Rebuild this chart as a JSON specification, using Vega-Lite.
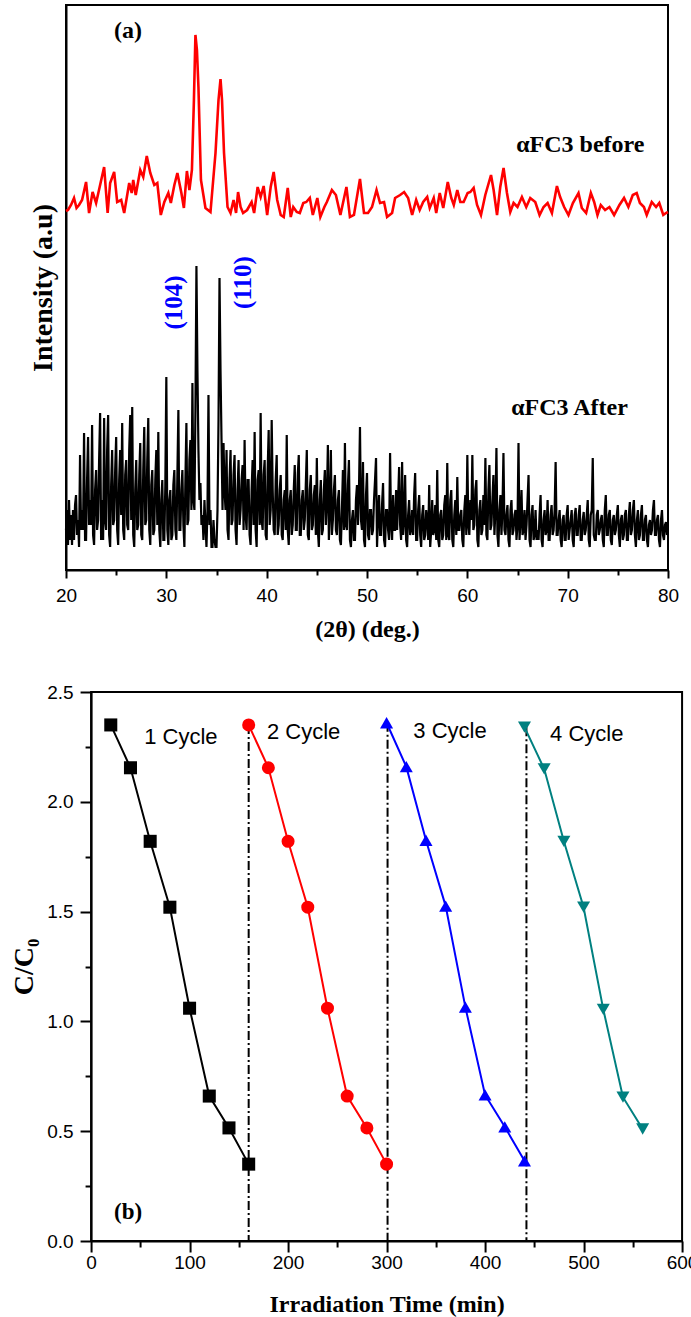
{
"$schema": "https://vega.github.io/schema/vega-lite/v6.json",
"padding": {"left": 5, "top": 4, "right": 5, "bottom": 0},
"spacing": 40,
"center": true,
"config": {
  "view": {"stroke": "black", "strokeWidth": 2},
  "axis": {"domainColor": "black", "domainWidth": 2, "tickColor": "black", "tickWidth": 2, "grid": false,
    "labelFont": "Liberation Sans", "labelFontSize": 19, "labelColor": "black",
    "titleFont": "Liberation Serif", "titleFontWeight": "bold", "titleColor": "black",
    "labelOverlap": false, "labelFlush": false}
},
"resolve": {"scale": {"x": "independent", "y": "independent", "color": "independent", "shape": "independent"}},
"datasets": {
"before": [
{"d":20.0,"i":359},{"d":20.2,"i":360},{"d":20.5,"i":365},{"d":20.8,"i":372},{"d":21.05,"i":362},{"d":21.3,"i":365},{"d":21.6,"i":370},{"d":22.0,"i":388},{"d":22.3,"i":357},{"d":22.65,"i":378},{"d":23.0,"i":367},{"d":23.4,"i":385},{"d":23.8,"i":403},{"d":24.15,"i":357},{"d":24.4,"i":387},{"d":24.8,"i":398},{"d":25.1,"i":368},{"d":25.5,"i":370},{"d":25.8,"i":357},{"d":26.3,"i":387},{"d":26.55,"i":377},{"d":26.7,"i":390},{"d":26.95,"i":375},{"d":27.4,"i":400},{"d":27.7,"i":393},{"d":28.05,"i":414},{"d":28.4,"i":397},{"d":28.8,"i":385},{"d":29.1,"i":387},{"d":29.45,"i":355},{"d":29.8,"i":368},{"d":30.2,"i":377},{"d":30.45,"i":367},{"d":30.8,"i":385},{"d":31.1,"i":397},{"d":31.5,"i":377},{"d":31.75,"i":362},{"d":32.05,"i":399},{"d":32.3,"i":380},{"d":32.55,"i":400},{"d":32.75,"i":470},{"d":32.9,"i":535},{"d":33.05,"i":520},{"d":33.2,"i":483},{"d":33.45,"i":390},{"d":33.9,"i":362},{"d":34.4,"i":358},{"d":34.9,"i":417},{"d":35.2,"i":470},{"d":35.4,"i":491},{"d":35.55,"i":470},{"d":35.75,"i":417},{"d":36.1,"i":363},{"d":36.4,"i":357},{"d":36.7,"i":370},{"d":36.95,"i":357},{"d":37.15,"i":378},{"d":37.4,"i":363},{"d":37.65,"i":357},{"d":38.05,"i":360},{"d":38.5,"i":368},{"d":38.75,"i":357},{"d":39.1,"i":383},{"d":39.4,"i":373},{"d":39.7,"i":384},{"d":40.05,"i":355},{"d":40.4,"i":383},{"d":40.7,"i":398},{"d":41.05,"i":370},{"d":41.4,"i":355},{"d":41.7,"i":353},{"d":42.1,"i":382},{"d":42.4,"i":353},{"d":42.65,"i":363},{"d":43.0,"i":358},{"d":43.3,"i":357},{"d":43.65,"i":367},{"d":43.95,"i":368},{"d":44.3,"i":372},{"d":44.6,"i":355},{"d":45.05,"i":372},{"d":45.35,"i":353},{"d":45.75,"i":363},{"d":46.0,"i":368},{"d":46.5,"i":380},{"d":46.9,"i":375},{"d":47.35,"i":355},{"d":47.95,"i":383},{"d":48.3,"i":353},{"d":48.7,"i":355},{"d":49.3,"i":391},{"d":49.7,"i":357},{"d":50.1,"i":357},{"d":50.5,"i":363},{"d":50.95,"i":380},{"d":51.3,"i":367},{"d":51.7,"i":368},{"d":52.0,"i":353},{"d":52.5,"i":357},{"d":52.8,"i":372},{"d":53.3,"i":375},{"d":53.7,"i":378},{"d":54.1,"i":372},{"d":54.5,"i":355},{"d":54.9,"i":370},{"d":55.25,"i":360},{"d":55.6,"i":368},{"d":56.0,"i":373},{"d":56.25,"i":362},{"d":56.65,"i":372},{"d":56.9,"i":357},{"d":57.25,"i":377},{"d":57.6,"i":362},{"d":58.05,"i":388},{"d":58.4,"i":372},{"d":58.65,"i":365},{"d":59.0,"i":380},{"d":59.3,"i":368},{"d":59.63,"i":368},{"d":60.03,"i":377},{"d":60.3,"i":378},{"d":60.63,"i":382},{"d":60.97,"i":365},{"d":61.36,"i":355},{"d":61.79,"i":375},{"d":62.36,"i":395},{"d":62.62,"i":380},{"d":62.96,"i":355},{"d":63.28,"i":383},{"d":63.61,"i":402},{"d":63.95,"i":377},{"d":64.28,"i":358},{"d":64.61,"i":367},{"d":65.0,"i":363},{"d":65.44,"i":373},{"d":65.87,"i":363},{"d":66.27,"i":372},{"d":66.77,"i":368},{"d":67.2,"i":355},{"d":67.6,"i":363},{"d":68.0,"i":367},{"d":68.43,"i":357},{"d":68.93,"i":384},{"d":69.25,"i":373},{"d":69.65,"i":363},{"d":70.08,"i":355},{"d":70.52,"i":367},{"d":71.08,"i":377},{"d":71.41,"i":362},{"d":71.84,"i":357},{"d":72.31,"i":377},{"d":72.64,"i":368},{"d":72.97,"i":355},{"d":73.3,"i":365},{"d":73.73,"i":360},{"d":74.16,"i":363},{"d":74.63,"i":355},{"d":75.16,"i":365},{"d":75.62,"i":372},{"d":76.05,"i":363},{"d":76.49,"i":375},{"d":76.88,"i":377},{"d":77.2,"i":367},{"d":77.6,"i":363},{"d":77.88,"i":355},{"d":78.38,"i":368},{"d":78.81,"i":363},{"d":79.13,"i":367},{"d":79.53,"i":355},{"d":79.8,"i":357},{"d":80.0,"i":358}
],
"after": [
{"d":20.0,"i":40},{"d":20.1,"i":60},{"d":20.2,"i":25},{"d":20.3,"i":70},{"d":20.4,"i":30},{"d":20.5,"i":55},{"d":20.6,"i":25},{"d":20.7,"i":60},{"d":20.8,"i":30},{"d":20.9,"i":65},
{"d":21.0,"i":75},{"d":21.1,"i":35},{"d":21.2,"i":50},{"d":21.3,"i":23},{"d":21.4,"i":115},{"d":21.5,"i":40},{"d":21.6,"i":60},{"d":21.7,"i":40},{"d":21.8,"i":137},{"d":21.9,"i":30},
{"d":22.0,"i":30},{"d":22.1,"i":90},{"d":22.2,"i":133},{"d":22.3,"i":45},{"d":22.4,"i":70},{"d":22.5,"i":45},{"d":22.6,"i":145},{"d":22.7,"i":35},{"d":22.8,"i":25},{"d":22.9,"i":80},
{"d":23.0,"i":100},{"d":23.1,"i":40},{"d":23.2,"i":50},{"d":23.3,"i":110},{"d":23.4,"i":157},{"d":23.5,"i":30},{"d":23.6,"i":70},{"d":23.7,"i":30},{"d":23.8,"i":152},{"d":23.9,"i":50},
{"d":24.0,"i":40},{"d":24.1,"i":120},{"d":24.2,"i":155},{"d":24.3,"i":35},{"d":24.4,"i":23},{"d":24.5,"i":85},{"d":24.6,"i":120},{"d":24.7,"i":45},{"d":24.8,"i":50},{"d":24.9,"i":100},
{"d":25.0,"i":133},{"d":25.1,"i":40},{"d":25.2,"i":25},{"d":25.3,"i":90},{"d":25.4,"i":120},{"d":25.5,"i":55},{"d":25.6,"i":147},{"d":25.7,"i":40},{"d":25.8,"i":30},{"d":25.9,"i":95},
{"d":26.0,"i":110},{"d":26.1,"i":45},{"d":26.2,"i":40},{"d":26.3,"i":120},{"d":26.4,"i":155},{"d":26.5,"i":50},{"d":26.6,"i":163},{"d":26.7,"i":35},{"d":26.8,"i":23},{"d":26.9,"i":80},
{"d":27.0,"i":110},{"d":27.1,"i":40},{"d":27.2,"i":45},{"d":27.3,"i":95},{"d":27.4,"i":127},{"d":27.5,"i":35},{"d":27.6,"i":30},{"d":27.7,"i":100},{"d":27.8,"i":143},{"d":27.9,"i":45},
{"d":28.0,"i":50},{"d":28.1,"i":110},{"d":28.2,"i":152},{"d":28.3,"i":40},{"d":28.4,"i":25},{"d":28.5,"i":85},{"d":28.6,"i":100},{"d":28.7,"i":35},{"d":28.8,"i":40},{"d":28.9,"i":90},
{"d":29.0,"i":120},{"d":29.1,"i":45},{"d":29.2,"i":138},{"d":29.3,"i":40},{"d":29.4,"i":23},{"d":29.5,"i":70},{"d":29.6,"i":90},{"d":29.7,"i":30},{"d":29.8,"i":30},{"d":29.9,"i":85},
{"d":30.0,"i":193},{"d":30.1,"i":40},{"d":30.2,"i":25},{"d":30.3,"i":70},{"d":30.4,"i":80},{"d":30.5,"i":30},{"d":30.6,"i":35},{"d":30.7,"i":85},{"d":30.8,"i":100},{"d":30.9,"i":40},
{"d":31.0,"i":30},{"d":31.1,"i":95},{"d":31.2,"i":160},{"d":31.3,"i":40},{"d":31.4,"i":40},{"d":31.5,"i":80},{"d":31.6,"i":100},{"d":31.7,"i":45},{"d":31.8,"i":23},{"d":31.9,"i":90},
{"d":32.0,"i":147},{"d":32.1,"i":45},{"d":32.2,"i":50},{"d":32.3,"i":110},{"d":32.4,"i":130},{"d":32.5,"i":60},{"d":32.6,"i":187},{"d":32.7,"i":70},{"d":32.8,"i":60},{"d":32.9,"i":160},
{"d":33.0,"i":304},{"d":33.1,"i":200},{"d":33.2,"i":120},{"d":33.3,"i":70},{"d":33.4,"i":87},{"d":33.5,"i":45},{"d":33.6,"i":55},{"d":33.7,"i":30},{"d":33.8,"i":70},{"d":33.9,"i":45},
{"d":34.0,"i":23},{"d":34.1,"i":60},{"d":34.2,"i":175},{"d":34.3,"i":45},{"d":34.4,"i":60},{"d":34.5,"i":23},{"d":34.6,"i":23},{"d":34.7,"i":50},{"d":34.8,"i":30},{"d":34.9,"i":23},
{"d":35.0,"i":23},{"d":35.1,"i":60},{"d":35.2,"i":150},{"d":35.3,"i":292},{"d":35.4,"i":200},{"d":35.5,"i":130},{"d":35.6,"i":60},{"d":35.7,"i":127},{"d":35.8,"i":80},{"d":35.9,"i":60},
{"d":36.0,"i":120},{"d":36.1,"i":40},{"d":36.2,"i":30},{"d":36.3,"i":90},{"d":36.4,"i":120},{"d":36.5,"i":45},{"d":36.6,"i":50},{"d":36.7,"i":95},{"d":36.8,"i":115},{"d":36.9,"i":40},
{"d":37.0,"i":25},{"d":37.1,"i":80},{"d":37.2,"i":110},{"d":37.3,"i":45},{"d":37.4,"i":60},{"d":37.5,"i":90},{"d":37.6,"i":105},{"d":37.7,"i":40},{"d":37.8,"i":130},{"d":37.9,"i":55},
{"d":38.0,"i":40},{"d":38.1,"i":90},{"d":38.2,"i":90},{"d":38.3,"i":35},{"d":38.4,"i":25},{"d":38.5,"i":80},{"d":38.6,"i":110},{"d":38.7,"i":45},{"d":38.8,"i":138},{"d":38.9,"i":40},
{"d":39.0,"i":23},{"d":39.1,"i":90},{"d":39.2,"i":100},{"d":39.3,"i":45},{"d":39.4,"i":157},{"d":39.5,"i":50},{"d":39.6,"i":40},{"d":39.7,"i":95},{"d":39.8,"i":110},{"d":39.9,"i":35},
{"d":40.0,"i":30},{"d":40.1,"i":100},{"d":40.2,"i":140},{"d":40.3,"i":45},{"d":40.4,"i":60},{"d":40.5,"i":150},{"d":40.6,"i":80},{"d":40.7,"i":40},{"d":40.8,"i":35},{"d":40.9,"i":90},
{"d":41.0,"i":115},{"d":41.1,"i":35},{"d":41.2,"i":45},{"d":41.3,"i":80},{"d":41.4,"i":95},{"d":41.5,"i":35},{"d":41.6,"i":30},{"d":41.7,"i":70},{"d":41.8,"i":80},{"d":41.9,"i":40},
{"d":42.0,"i":135},{"d":42.1,"i":40},{"d":42.2,"i":25},{"d":42.3,"i":70},{"d":42.4,"i":80},{"d":42.5,"i":35},{"d":42.6,"i":45},{"d":42.7,"i":80},{"d":42.8,"i":105},{"d":42.9,"i":40},
{"d":43.0,"i":40},{"d":43.1,"i":95},{"d":43.2,"i":115},{"d":43.3,"i":35},{"d":43.4,"i":35},{"d":43.5,"i":70},{"d":43.6,"i":80},{"d":43.7,"i":40},{"d":43.8,"i":50},{"d":43.9,"i":85},
{"d":44.0,"i":120},{"d":44.1,"i":35},{"d":44.2,"i":30},{"d":44.3,"i":80},{"d":44.4,"i":95},{"d":44.5,"i":40},{"d":44.6,"i":45},{"d":44.7,"i":75},{"d":44.8,"i":85},{"d":44.9,"i":35},
{"d":45.0,"i":112},{"d":45.1,"i":40},{"d":45.2,"i":23},{"d":45.3,"i":70},{"d":45.4,"i":90},{"d":45.5,"i":35},{"d":45.6,"i":40},{"d":45.7,"i":80},{"d":45.8,"i":100},{"d":45.9,"i":45},
{"d":46.0,"i":70},{"d":46.1,"i":125},{"d":46.2,"i":30},{"d":46.3,"i":60},{"d":46.4,"i":120},{"d":46.5,"i":35},{"d":46.6,"i":50},{"d":46.7,"i":80},{"d":46.8,"i":95},{"d":46.9,"i":40},
{"d":47.0,"i":35},{"d":47.1,"i":70},{"d":47.2,"i":80},{"d":47.3,"i":30},{"d":47.4,"i":25},{"d":47.5,"i":60},{"d":47.6,"i":100},{"d":47.7,"i":40},{"d":47.8,"i":127},{"d":47.9,"i":45},
{"d":48.0,"i":40},{"d":48.1,"i":85},{"d":48.2,"i":110},{"d":48.3,"i":30},{"d":48.4,"i":23},{"d":48.5,"i":50},{"d":48.6,"i":60},{"d":48.7,"i":30},{"d":48.8,"i":30},{"d":48.9,"i":70},
{"d":49.0,"i":85},{"d":49.1,"i":45},{"d":49.2,"i":80},{"d":49.3,"i":143},{"d":49.4,"i":50},{"d":49.5,"i":40},{"d":49.6,"i":108},{"d":49.7,"i":30},{"d":49.8,"i":23},{"d":49.9,"i":75},
{"d":50.0,"i":97},{"d":50.1,"i":35},{"d":50.2,"i":30},{"d":50.3,"i":60},{"d":50.4,"i":60},{"d":50.5,"i":35},{"d":50.6,"i":40},{"d":50.7,"i":70},{"d":50.8,"i":90},{"d":50.9,"i":112},
{"d":51.0,"i":23},{"d":51.1,"i":55},{"d":51.2,"i":75},{"d":51.3,"i":35},{"d":51.4,"i":35},{"d":51.5,"i":65},{"d":51.6,"i":87},{"d":51.7,"i":30},{"d":51.8,"i":23},{"d":51.9,"i":60},
{"d":52.0,"i":60},{"d":52.1,"i":40},{"d":52.2,"i":30},{"d":52.3,"i":117},{"d":52.4,"i":45},{"d":52.5,"i":30},{"d":52.6,"i":75},{"d":52.7,"i":40},{"d":52.8,"i":40},{"d":52.9,"i":80},
{"d":53.0,"i":40},{"d":53.1,"i":70},{"d":53.2,"i":103},{"d":53.3,"i":45},{"d":53.4,"i":30},{"d":53.5,"i":108},{"d":53.6,"i":35},{"d":53.7,"i":50},{"d":53.8,"i":95},{"d":53.9,"i":30},
{"d":54.0,"i":23},{"d":54.1,"i":55},{"d":54.2,"i":70},{"d":54.3,"i":35},{"d":54.4,"i":40},{"d":54.5,"i":60},{"d":54.6,"i":35},{"d":54.7,"i":75},{"d":54.8,"i":97},{"d":54.9,"i":30},
{"d":55.0,"i":30},{"d":55.1,"i":60},{"d":55.2,"i":75},{"d":55.3,"i":35},{"d":55.4,"i":23},{"d":55.5,"i":55},{"d":55.6,"i":65},{"d":55.7,"i":30},{"d":55.8,"i":35},{"d":55.9,"i":60},
{"d":56.0,"i":50},{"d":56.1,"i":30},{"d":56.2,"i":85},{"d":56.3,"i":23},{"d":56.4,"i":40},{"d":56.5,"i":70},{"d":56.6,"i":35},{"d":56.7,"i":40},{"d":56.8,"i":65},{"d":56.9,"i":30},
{"d":57.0,"i":100},{"d":57.1,"i":30},{"d":57.2,"i":23},{"d":57.3,"i":55},{"d":57.4,"i":60},{"d":57.5,"i":30},{"d":57.6,"i":35},{"d":57.7,"i":65},{"d":57.8,"i":75},{"d":57.9,"i":30},
{"d":58.0,"i":107},{"d":58.1,"i":35},{"d":58.2,"i":30},{"d":58.3,"i":70},{"d":58.4,"i":80},{"d":58.5,"i":30},{"d":58.6,"i":23},{"d":58.7,"i":55},{"d":58.8,"i":70},{"d":58.9,"i":35},
{"d":59.0,"i":93},{"d":59.1,"i":40},{"d":59.2,"i":40},{"d":59.3,"i":55},{"d":59.4,"i":60},{"d":59.5,"i":30},{"d":59.6,"i":23},{"d":59.7,"i":60},{"d":59.8,"i":75},{"d":59.9,"i":35},
{"d":60.0,"i":115},{"d":60.1,"i":45},{"d":60.2,"i":35},{"d":60.3,"i":70},{"d":60.4,"i":50},{"d":60.5,"i":115},{"d":60.6,"i":40},{"d":60.7,"i":45},{"d":60.8,"i":80},{"d":60.9,"i":90},
{"d":61.0,"i":30},{"d":61.1,"i":23},{"d":61.2,"i":60},{"d":61.3,"i":70},{"d":61.4,"i":35},{"d":61.5,"i":40},{"d":61.6,"i":75},{"d":61.7,"i":45},{"d":61.8,"i":112},{"d":61.9,"i":35},
{"d":62.0,"i":30},{"d":62.1,"i":80},{"d":62.2,"i":105},{"d":62.3,"i":40},{"d":62.4,"i":45},{"d":62.5,"i":70},{"d":62.6,"i":95},{"d":62.7,"i":35},{"d":62.8,"i":60},{"d":62.9,"i":122},
{"d":63.0,"i":35},{"d":63.1,"i":23},{"d":63.2,"i":60},{"d":63.3,"i":75},{"d":63.4,"i":35},{"d":63.5,"i":60},{"d":63.6,"i":117},{"d":63.7,"i":40},{"d":63.8,"i":35},{"d":63.9,"i":55},
{"d":64.0,"i":65},{"d":64.1,"i":30},{"d":64.2,"i":23},{"d":64.3,"i":60},{"d":64.4,"i":70},{"d":64.5,"i":35},{"d":64.6,"i":40},{"d":64.7,"i":55},{"d":64.8,"i":60},{"d":64.9,"i":30},
{"d":65.0,"i":45},{"d":65.1,"i":127},{"d":65.2,"i":30},{"d":65.3,"i":50},{"d":65.4,"i":80},{"d":65.5,"i":35},{"d":65.6,"i":40},{"d":65.7,"i":60},{"d":65.8,"i":30},{"d":65.9,"i":45},
{"d":66.0,"i":70},{"d":66.1,"i":95},{"d":66.2,"i":30},{"d":66.3,"i":23},{"d":66.4,"i":55},{"d":66.5,"i":65},{"d":66.6,"i":30},{"d":66.7,"i":35},{"d":66.8,"i":60},{"d":66.9,"i":30},
{"d":67.0,"i":40},{"d":67.1,"i":30},{"d":67.2,"i":55},{"d":67.3,"i":75},{"d":67.4,"i":30},{"d":67.5,"i":23},{"d":67.6,"i":50},{"d":67.7,"i":60},{"d":67.8,"i":35},{"d":67.9,"i":40},
{"d":68.0,"i":70},{"d":68.1,"i":30},{"d":68.2,"i":30},{"d":68.3,"i":55},{"d":68.4,"i":65},{"d":68.5,"i":35},{"d":68.6,"i":40},{"d":68.7,"i":60},{"d":68.8,"i":108},{"d":68.9,"i":35},
{"d":69.0,"i":35},{"d":69.1,"i":50},{"d":69.2,"i":60},{"d":69.3,"i":30},{"d":69.4,"i":23},{"d":69.5,"i":50},{"d":69.6,"i":55},{"d":69.7,"i":30},{"d":69.8,"i":30},{"d":69.9,"i":55},
{"d":70.0,"i":65},{"d":70.1,"i":30},{"d":70.2,"i":40},{"d":70.3,"i":50},{"d":70.4,"i":60},{"d":70.5,"i":30},{"d":70.6,"i":23},{"d":70.7,"i":55},{"d":70.8,"i":62},{"d":70.9,"i":35},
{"d":71.0,"i":35},{"d":71.1,"i":55},{"d":71.2,"i":65},{"d":71.3,"i":30},{"d":71.4,"i":30},{"d":71.5,"i":50},{"d":71.6,"i":58},{"d":71.7,"i":35},{"d":71.8,"i":40},{"d":71.9,"i":55},
{"d":72.0,"i":70},{"d":72.1,"i":30},{"d":72.2,"i":23},{"d":72.3,"i":55},{"d":72.4,"i":60},{"d":72.5,"i":112},{"d":72.6,"i":35},{"d":72.7,"i":30},{"d":72.8,"i":30},{"d":72.9,"i":55},
{"d":73.0,"i":60},{"d":73.1,"i":35},{"d":73.2,"i":40},{"d":73.3,"i":50},{"d":73.4,"i":55},{"d":73.5,"i":30},{"d":73.6,"i":23},{"d":73.7,"i":60},{"d":73.8,"i":75},{"d":73.9,"i":35},
{"d":74.0,"i":35},{"d":74.1,"i":55},{"d":74.2,"i":60},{"d":74.3,"i":30},{"d":74.4,"i":25},{"d":74.5,"i":50},{"d":74.6,"i":55},{"d":74.7,"i":35},{"d":74.8,"i":40},{"d":74.9,"i":55},
{"d":75.0,"i":65},{"d":75.1,"i":35},{"d":75.2,"i":23},{"d":75.3,"i":50},{"d":75.4,"i":55},{"d":75.5,"i":30},{"d":75.6,"i":35},{"d":75.7,"i":55},{"d":75.8,"i":60},{"d":75.9,"i":30},
{"d":76.0,"i":30},{"d":76.1,"i":55},{"d":76.2,"i":68},{"d":76.3,"i":35},{"d":76.4,"i":40},{"d":76.5,"i":60},{"d":76.6,"i":70},{"d":76.7,"i":35},{"d":76.8,"i":23},{"d":76.9,"i":50},
{"d":77.0,"i":60},{"d":77.1,"i":30},{"d":77.2,"i":35},{"d":77.3,"i":55},{"d":77.4,"i":65},{"d":77.5,"i":30},{"d":77.6,"i":30},{"d":77.7,"i":50},{"d":77.8,"i":55},{"d":77.9,"i":30},
{"d":78.0,"i":23},{"d":78.1,"i":45},{"d":78.2,"i":50},{"d":78.3,"i":35},{"d":78.4,"i":40},{"d":78.5,"i":60},{"d":78.6,"i":70},{"d":78.7,"i":35},{"d":78.8,"i":35},{"d":78.9,"i":50},
{"d":79.0,"i":55},{"d":79.1,"i":30},{"d":79.2,"i":23},{"d":79.3,"i":50},{"d":79.4,"i":60},{"d":79.5,"i":35},{"d":79.6,"i":30},{"d":79.7,"i":45},{"d":79.8,"i":48},{"d":79.9,"i":35},
{"d":80.0,"i":40}
],
"labelsA": [
{"d":24.79,"i":532,"txt":"(a)"},
{"d":64.87,"i":418,"txt":"αFC3 before"},
{"d":64.37,"i":155,"txt":"αFC3 After"}
],
"hkl": [
{"d":30.8,"i":267.5,"txt":"(104)"},
{"d":37.62,"i":287.5,"txt":"(110)"}
],
"cycles": [
{"t":20,"v":2.35,"cyc":"1"},{"t":40,"v":2.155,"cyc":"1"},{"t":60,"v":1.82,"cyc":"1"},{"t":80,"v":1.52,"cyc":"1"},{"t":100,"v":1.06,"cyc":"1"},{"t":120,"v":0.66,"cyc":"1"},{"t":140,"v":0.515,"cyc":"1"},{"t":160,"v":0.35,"cyc":"1"},
{"t":160,"v":2.35,"cyc":"2"},{"t":180,"v":2.155,"cyc":"2"},{"t":200,"v":1.82,"cyc":"2"},{"t":220,"v":1.52,"cyc":"2"},{"t":240,"v":1.06,"cyc":"2"},{"t":260,"v":0.66,"cyc":"2"},{"t":280,"v":0.515,"cyc":"2"},{"t":300,"v":0.35,"cyc":"2"},
{"t":300,"v":2.36,"cyc":"3"},{"t":320,"v":2.16,"cyc":"3"},{"t":340,"v":1.825,"cyc":"3"},{"t":360,"v":1.525,"cyc":"3"},{"t":380,"v":1.065,"cyc":"3"},{"t":400,"v":0.665,"cyc":"3"},{"t":420,"v":0.52,"cyc":"3"},{"t":440,"v":0.365,"cyc":"3"},
{"t":440,"v":2.34,"cyc":"4"},{"t":460,"v":2.15,"cyc":"4"},{"t":480,"v":1.82,"cyc":"4"},{"t":500,"v":1.52,"cyc":"4"},{"t":520,"v":1.055,"cyc":"4"},{"t":540,"v":0.655,"cyc":"4"},{"t":560,"v":0.51,"cyc":"4"}
],
"dashes": [
{"t":160,"top":2.35,"bot":0},{"t":301,"top":2.36,"bot":0},{"t":442,"top":2.34,"bot":0}
],
"labelsB": [
{"t":53.9,"v":2.264,"txt":"1 Cycle"},{"t":178.6,"v":2.287,"txt":"2 Cycle"},{"t":327.2,"v":2.289,"txt":"3 Cycle"},{"t":466,"v":2.278,"txt":"4 Cycle"}
],
"tagB": [{"t":23.4,"v":0.10,"txt":"(b)"}]
},
"vconcat": [
{
  "width": 602, "height": 565,
  "resolve": {"scale": {"y": "independent"}},
  "layer": [
    {"layer": [
      {"data": {"name": "before"}, "mark": {"type": "line", "color": "#ff0000", "strokeWidth": 2.6},
       "encoding": {
         "x": {"field": "d", "type": "quantitative", "scale": {"domain": [20, 80], "nice": false, "zero": false},
           "axis": {"values": [20,25,30,35,40,45,50,55,60,65,70,75,80],
             "labelExpr": "datum.value % 10 === 0 ? datum.label : ''",
             "tickSize": {"condition": {"test": "datum.value % 10 === 0", "value": 8}, "value": 5},
             "labelPadding": 8, "title": "(2θ) (deg.)", "titleFontSize": 24, "titlePadding": 12}},
         "y": {"field": "i", "type": "quantitative", "scale": {"domain": [0, 565], "nice": false},
           "axis": {"orient": "left", "labels": false, "ticks": false, "title": "Intensity (a.u)", "titleFontSize": 28,
             "minExtent": 50, "titleX": -23, "titleBaseline": "middle"}}
       }},
      {"data": {"name": "after"}, "mark": {"type": "line", "color": "black", "strokeWidth": 2.2},
       "encoding": {"x": {"field": "d", "type": "quantitative"}, "y": {"field": "i", "type": "quantitative"}}},
      {"data": {"name": "labelsA"}, "mark": {"type": "text", "font": "Liberation Serif", "fontWeight": "bold", "fontSize": 24, "align": "left", "baseline": "alphabetic", "color": "black"},
       "encoding": {"x": {"field": "d", "type": "quantitative"}, "y": {"field": "i", "type": "quantitative"}, "text": {"field": "txt"}}}
    ]},
    {"data": {"name": "hkl"}, "mark": {"type": "text", "font": "Liberation Serif", "fontWeight": "bold", "fontSize": 25, "align": "center", "baseline": "middle", "angle": 270, "color": "#0000ff"},
     "encoding": {"x": {"field": "d", "type": "quantitative"},
       "y": {"field": "i", "type": "quantitative", "scale": {"domain": [0, 565], "nice": false},
         "axis": {"orient": "right", "labels": false, "ticks": false, "domain": false, "title": null, "minExtent": 55}},
       "text": {"field": "txt"}}}
  ]
},
{
  "width": 591, "height": 549,
  "layer": [
    {"data": {"name": "dashes"}, "mark": {"type": "rule", "color": "black", "strokeWidth": 2, "strokeDash": [9, 3, 2, 3]},
     "encoding": {
       "x": {"field": "t", "type": "quantitative", "scale": {"domain": [0, 600], "nice": false},
         "axis": {"values": [0,50,100,150,200,250,300,350,400,450,500,550,600],
           "labelExpr": "datum.value % 100 === 0 ? datum.label : ''",
           "tickSize": {"condition": {"test": "datum.value % 100 === 0", "value": 11}, "value": 6},
           "labelPadding": 1, "title": "Irradiation Time (min)", "titleFontSize": 24, "titlePadding": 20}},
       "y": {"field": "top", "type": "quantitative", "scale": {"domain": [0, 2.5], "nice": false},
         "axis": {"values": [0,0.25,0.5,0.75,1,1.25,1.5,1.75,2,2.25,2.5],
           "labelExpr": "(datum.value * 2) % 1 === 0 ? format(datum.value, '.1f') : ''",
           "tickSize": {"condition": {"test": "(datum.value * 2) % 1 === 0", "value": 11}, "value": 6},
           "labelPadding": 7, "title": "C/C₀", "titleFontSize": 28, "minExtent": 85, "titleX": -67, "titleBaseline": "middle"}},
       "y2": {"field": "bot"}
     }},
    {"data": {"name": "cycles"}, "mark": {"type": "line", "strokeWidth": 2},
     "encoding": {
       "x": {"field": "t", "type": "quantitative"}, "y": {"field": "v", "type": "quantitative"},
       "color": {"field": "cyc", "type": "nominal", "scale": {"domain": ["1","2","3","4"], "range": ["#000000","#ff0000","#0000ff","#008080"]}, "legend": null}
     }},
    {"data": {"name": "cycles"}, "mark": {"type": "point", "filled": true, "opacity": 1, "size": 170},
     "encoding": {
       "x": {"field": "t", "type": "quantitative"}, "y": {"field": "v", "type": "quantitative"},
       "color": {"field": "cyc", "type": "nominal", "scale": {"domain": ["1","2","3","4"], "range": ["#000000","#ff0000","#0000ff","#008080"]}, "legend": null},
       "shape": {"field": "cyc", "type": "nominal", "scale": {"domain": ["1","2","3","4"], "range": ["square","circle","triangle-up","triangle-down"]}, "legend": null}
     }},
    {"data": {"name": "labelsB"}, "mark": {"type": "text", "font": "Liberation Sans", "fontSize": 22, "align": "left", "baseline": "alphabetic", "color": "black"},
     "encoding": {"x": {"field": "t", "type": "quantitative"}, "y": {"field": "v", "type": "quantitative"}, "text": {"field": "txt"}}},
    {"data": {"name": "tagB"}, "mark": {"type": "text", "font": "Liberation Serif", "fontWeight": "bold", "fontSize": 23, "align": "left", "baseline": "alphabetic", "color": "black"},
     "encoding": {"x": {"field": "t", "type": "quantitative"}, "y": {"field": "v", "type": "quantitative"}, "text": {"field": "txt"}}}
  ]
}
]
}
